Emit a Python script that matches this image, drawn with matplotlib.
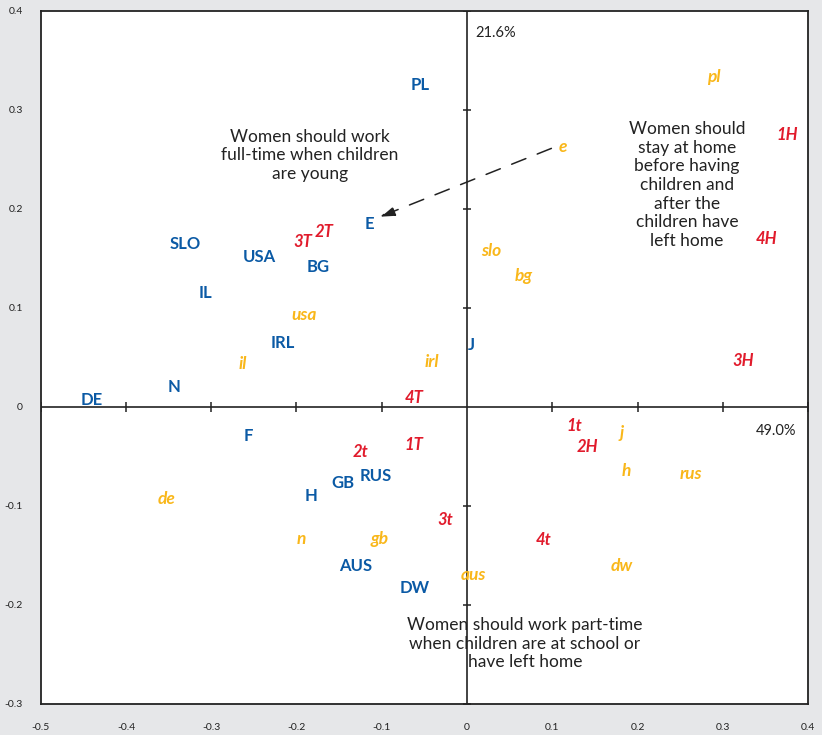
import matplotlib
matplotlib.use("Agg")
import matplotlib.pyplot as plt

plt.rcParams['font.family'] = ['Lato', 'DejaVu Sans']

# Country row points (blue), country column points (yellow), response categories (red)
country_labels = ["PL", "E", "SLO", "USA", "BG", "IL", "IRL", "N", "DE", "J",
                  "F", "H", "GB", "RUS", "AUS", "DW"]
country_x = [-0.055, -0.115, -0.331, -0.243, -0.175, -0.307, -0.216, -0.343, -0.440, 0.005,
             -0.256, -0.183, -0.146, -0.107, -0.130, -0.061]
country_y = [0.325, 0.185, 0.164, 0.151, 0.141, 0.115, 0.065, 0.020, 0.007, 0.062,
             -0.029, -0.090, -0.077, -0.070, -0.161, -0.183]

lower_labels = ["pl", "e", "slo", "bg", "usa", "il", "irl", "j", "h", "rus",
                "dw", "aus", "de", "n", "gb"]
lower_x = [0.289, 0.113, 0.028, 0.066, -0.191, -0.263, -0.041, 0.181, 0.187, 0.263,
           0.182, 0.007, -0.352, -0.194, -0.102]
lower_y = [0.333, 0.262, 0.157, 0.132, 0.093, 0.043, 0.045, -0.026, -0.065, -0.068,
           -0.161, -0.170, -0.093, -0.133, -0.133]

resp_labels = ["1H", "4H", "3H", "3T", "2T", "4T", "1T", "2t", "3t", "4t", "1t", "2H"]
resp_x = [0.375, 0.351, 0.324, -0.192, -0.167, -0.062, -0.062, -0.125, -0.026, 0.090, 0.126, 0.141]
resp_y = [0.275, 0.170, 0.046, 0.166, 0.177, 0.009, -0.038, -0.046, -0.114, -0.134, -0.019, -0.041]

x_ticks = [-0.5, -0.4, -0.3, -0.2, -0.1, 0, 0.1, 0.2, 0.3, 0.4]
y_ticks = [-0.3, -0.2, -0.1, 0, 0.1, 0.2, 0.3, 0.4]
x_tick_labels = ["-0.5", "-0.4", "-0.3", "-0.2", "-0.1", "0", "0.1", "0.2", "0.3", "0.4"]
y_tick_labels = ["-0.3", "-0.2", "-0.1", "0", "0.1", "0.2", "0.3", "0.4"]

inertia_dim1 = "49.0%"
inertia_dim2 = "21.6%"

BLUE = "#0b5aa5"
YELLOW = "#f9b71a"
RED = "#e11b2c"
BG = "#e6e7e9"
INK = "#222222"

fig = plt.figure(figsize=(8.22, 7.35), dpi=100, facecolor=BG)
ax = fig.add_axes([0.0495, 0.0422, 0.9335, 0.9432])
ax.set_facecolor("white")
ax.set_xlim(-0.5, 0.4)
ax.set_ylim(-0.3, 0.4)

for s in ax.spines.values():
    s.set_color(INK)
    s.set_linewidth(1.3)

ax.set_xticks(x_ticks)
ax.set_xticklabels(x_tick_labels)
ax.set_yticks(y_ticks)
ax.set_yticklabels(y_tick_labels)
ax.tick_params(axis='both', length=0, labelsize=7.5, colors=INK)
ax.tick_params(axis='x', pad=14)
ax.tick_params(axis='y', pad=13)

# Principal axes through the origin with their own tick marks
ax.axhline(0, color=INK, lw=1.2, zorder=1)
ax.axvline(0, color=INK, lw=1.2, zorder=1)
ax.plot([t for t in x_ticks if t != 0], [0] * (len(x_ticks) - 1), ls='none',
        marker='|', ms=7, mew=1.1, color=INK, zorder=1)
ax.plot([0] * (len(y_ticks) - 1), [t for t in y_ticks if t != 0], ls='none',
        marker='_', ms=6, mew=1.1, color=INK, zorder=1)

for lab, x, y in zip(country_labels, country_x, country_y):
    ax.text(x, y, lab, color=BLUE, fontsize=12, fontweight='bold',
            ha='center', va='center', zorder=3)
for lab, x, y in zip(lower_labels, lower_x, lower_y):
    ax.text(x, y, lab, color=YELLOW, fontsize=12.5, fontstyle='italic', fontweight='bold',
            ha='center', va='center', zorder=3)
for lab, x, y in zip(resp_labels, resp_x, resp_y):
    ax.text(x, y, lab, color=RED, fontsize=12, fontstyle='italic', fontweight='bold',
            ha='center', va='center', zorder=3)

ax.text(0.01, 0.378, inertia_dim2, fontsize=10.5, color=INK, ha='left', va='center')
ax.text(0.363, -0.024, inertia_dim1, fontsize=10.5, color=INK, ha='center', va='center')

note_kw = dict(fontsize=12.5, fontweight='normal', color=INK, ha='center', va='center',
               linespacing=1.2, zorder=2)
ax.text(-0.184, 0.254, "Women should work\nfull-time when children\nare young", **note_kw)
ax.text(0.258, 0.224, "Women should\nstay at home\nbefore having\nchildren and\nafter the\nchildren have\nleft home",
        **note_kw)
ax.text(0.068, -0.239, "Women should work part-time\nwhen children are at school or\nhave left home",
        **note_kw)

# Dashed arrow from "e" toward the full-time pole
ax.annotate("", xy=(-0.102, 0.192), xytext=(0.099, 0.261),
            arrowprops=dict(arrowstyle="-|>,head_length=0.9,head_width=0.3",
                            linestyle=(0, (10, 8)), color=INK, lw=1.1,
                            shrinkA=0, shrinkB=0), zorder=2)

fig.savefig("out.png", dpi=100, facecolor=BG)
